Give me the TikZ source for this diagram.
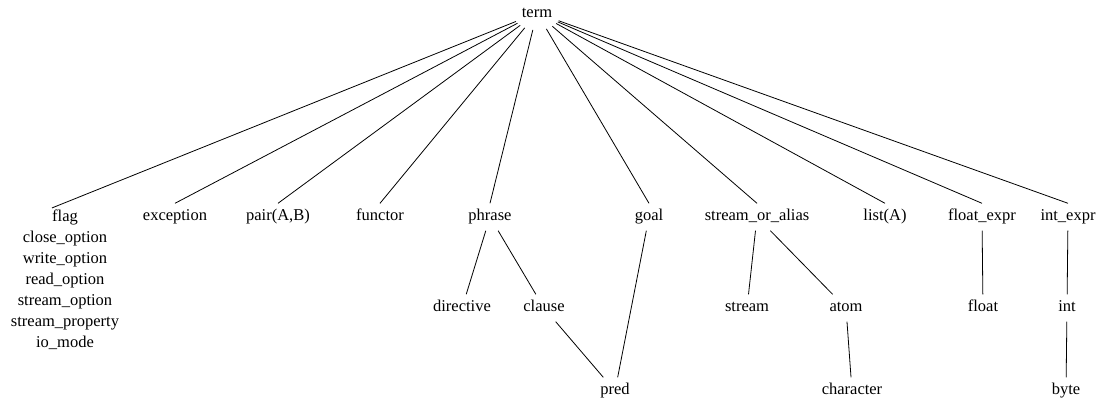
\documentclass[tikz,border=0pt]{standalone}
\usepackage{fontspec}
\setmainfont{Liberation Serif}
\usetikzlibrary{shapes.geometric}

\begin{document}
\begin{tikzpicture}[
    x=1pt, y=-1pt,
    kind/.style={
        rectangle, inner xsep=2pt, inner ysep=6pt,
        text height=11pt, text depth=4pt,
        font=\fontsize{16.5}{21}\selectfont
    },
    root/.style={
        ellipse, inner sep=0pt, minimum width=48pt, minimum height=34pt,
        font=\fontsize{16.5}{21}\selectfont
    },
    stack/.style={
        rectangle, inner sep=2pt, align=center,
        font=\fontsize{16.5}{21}\selectfont
    },
    link/.style={line width=0.8pt, draw=black}
]
  \useasboundingbox (0,0) rectangle (1109,399);

  % Root
  \node[root] (term) at (537,13) {term};

  % First Row
  \node[stack] (flag) at (65,280) {flag\\close\_option\\write\_option\\read\_option\\stream\_option\\stream\_property\\io\_mode};
  \node[kind] (exception) at (175,217) {exception};
  \node[kind] (pair) at (278,217) {pair(A,B)};
  \node[kind] (functor) at (380,217) {functor};
  \node[kind] (phrase) at (490,217) {phrase};
  \node[kind] (goal) at (649,217) {goal};
  \node[kind] (streamalias) at (757,217) {stream\_or\_alias};
  \node[kind] (list) at (885,217) {list(A)};
  \node[kind] (floatexpr) at (982,217) {float\_expr};
  \node[kind] (intexpr) at (1068,217) {int\_expr};

  % Second Row
  \node[kind] (directive) at (462,308) {directive};
  \node[kind] (clause) at (544,308) {clause};
  \node[kind] (stream) at (747,308) {stream};
  \node[kind] (atom) at (846,308) {atom};
  \node[kind] (float) at (983,308) {float};
  \node[kind] (int) at (1067,308) {int};

  % Third Row
  \node[kind] (pred) at (615,391) {pred};
  \node[kind] (character) at (852,391) {character};
  \node[kind] (byte) at (1066,391) {byte};

  % Edges from the root
  \draw[link] (term) -- ([xshift=-13pt]flag.north);
  \draw[link] (term) -- (exception.north);
  \draw[link] (term) -- (pair.north);
  \draw[link] (term) -- (functor.north);
  \draw[link] (term) -- (phrase.north);
  \draw[link] (term) -- (goal.north);
  \draw[link] (term) -- (streamalias.north);
  \draw[link] (term) -- (list.north);
  \draw[link] (term) -- (floatexpr.north);
  \draw[link] (term) -- (intexpr.north);

  % Lower edges
  \draw[link] (phrase) -- (directive);
  \draw[link] (phrase) -- (clause);
  \draw[link] (clause) -- (pred);
  \draw[link] (goal) -- (pred);
  \draw[link] (streamalias) -- (stream);
  \draw[link] (streamalias) -- (atom);
  \draw[link] (atom) -- (character);
  \draw[link] (floatexpr) -- (float);
  \draw[link] (intexpr) -- (int);
  \draw[link] (int) -- (byte);

\end{tikzpicture}
\end{document}
